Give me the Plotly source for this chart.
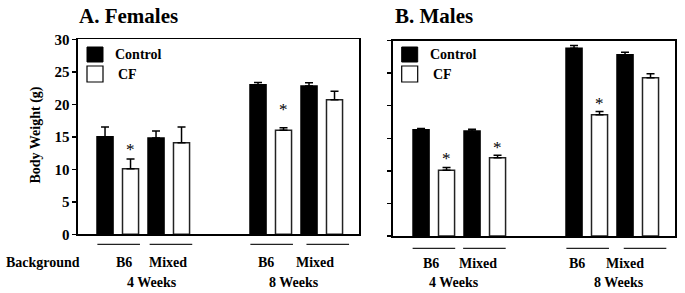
import plotly.graph_objects as go

# ---------------- data ----------------
ages = ["4 Weeks", "8 Weeks"]
backgrounds = ["B6", "Mixed"]
conditions = ["Control", "CF"]

# order: 4wk-B6, 4wk-Mixed, 8wk-B6, 8wk-Mixed
females_control = [15.0, 14.8, 23.0, 22.8]
females_control_err = [1.5, 1.1, 0.35, 0.5]
females_cf = [10.1, 14.1, 16.0, 20.7]
females_cf_err = [1.5, 2.4, 0.4, 1.3]

males_control = [16.3, 16.1, 28.8, 27.8]
males_control_err = [0.2, 0.3, 0.45, 0.4]
males_cf = [10.1, 12.0, 18.6, 24.3]
males_cf_err = [0.4, 0.4, 0.5, 0.6]

# significance marks (index into group list, for CF bars)
females_sig = [0, 2]
males_sig = [0, 1, 2]

y_ticks = [0, 5, 10, 15, 20, 25, 30]

FONT = "Liberation Serif"
W, H = 685, 293


def px_x(p):
    return p / W


def px_y(p):
    return 1 - p / H


# group base positions derived from category indices
group_base = []
for ai, _a in enumerate(ages):
    for bi, _b in enumerate(backgrounds):
        group_base.append(ai * 6 + bi * 2)

fig = go.Figure()

panels = [
    dict(name="A. Females", ctrl=females_control, ctrl_err=females_control_err,
         cf=females_cf, cf_err=females_cf_err, sig=females_sig,
         xa="x", ya="y", xdom=(78, 359), ydom=(234.3, 39.3),
         star_shift=[10, None, 19, None],
         line_y=244.3, lab_y=262.7, wk_y=282.7,
         line_shift=[0.0, 0.05, 0.0, 0.2],
         lab_x=[0.75, 0.47, 0.31, 0.22], wk_x=[1.86, 7.41],
         title_x=77, leg_x=87, showlabels=True),
    dict(name="B. Males", ctrl=males_control, ctrl_err=males_control_err,
         cf=males_cf, cf_err=males_cf_err, sig=males_sig,
         xa="x2", ya="y2", xdom=(393, 675), ydom=(236, 40.5),
         star_shift=[10, 8, 9, None],
         line_y=248.3, lab_y=263.3, wk_y=282.7,
         line_shift=[-0.03, -0.05, 0.0, 0.25],
         lab_x=[0.39, 0.24, 0.1, -0.02], wk_x=[1.29, 7.75],
         title_x=393, leg_x=401.7, showlabels=False),
]

shapes = []
annotations = []


def bold(t):
    return "<b>" + t + "</b>"


for k, P in enumerate(panels):
    xs_ctrl = [b + 0 for b in group_base]
    xs_cf = [b + 1 for b in group_base]
    fig.add_trace(go.Bar(
        x=xs_ctrl, y=P["ctrl"], width=0.63, name=conditions[0],
        marker=dict(color="black", line=dict(color="black", width=1.5)),
        error_y=dict(type="data", array=P["ctrl_err"], arrayminus=[0] * 4,
                     symmetric=False, color="black", thickness=1.5, width=4),
        xaxis=P["xa"], yaxis=P["ya"], showlegend=False, hoverinfo="skip"))
    fig.add_trace(go.Bar(
        x=xs_cf, y=P["cf"], width=0.63, name=conditions[1],
        marker=dict(color="white", line=dict(color="#222", width=1.5)),
        error_y=dict(type="data", array=P["cf_err"], arrayminus=[0] * 4,
                     symmetric=False, color="black", thickness=1.5, width=4),
        xaxis=P["xa"], yaxis=P["ya"], showlegend=False, hoverinfo="skip"))

    # asterisks
    for i in P["sig"]:
        annotations.append(dict(
            x=xs_cf[i], y=P["cf"][i] + P["cf_err"][i], xref=P["xa"], yref=P["ya"],
            text="*", showarrow=False, yanchor="bottom", yshift=P["star_shift"][i] - 12,
            font=dict(family=FONT, size=17, color="black")))

    # title
    annotations.append(dict(
        x=px_x(P["title_x"]), y=px_y(16), xref="paper", yref="paper",
        xanchor="left", yanchor="middle", text=bold(P["name"]), showarrow=False,
        font=dict(family=FONT, size=21, color="black")))

    # legend (drawn)
    lx = P["leg_x"]
    shapes.append(dict(type="rect", xref="paper", yref="paper",
                       x0=px_x(lx), x1=px_x(lx + 16), y0=px_y(62), y1=px_y(47),
                       fillcolor="black", line=dict(color="black", width=1)))
    shapes.append(dict(type="rect", xref="paper", yref="paper",
                       x0=px_x(lx), x1=px_x(lx + 16), y0=px_y(82), y1=px_y(66),
                       fillcolor="white", line=dict(color="black", width=1.2)))
    annotations.append(dict(x=px_x(lx + 26), y=px_y(54.5), xref="paper", yref="paper",
                            xanchor="left", yanchor="middle", text=bold(conditions[0]),
                            showarrow=False,
                            font=dict(family=FONT, size=14, color="black")))
    annotations.append(dict(x=px_x(lx + 29), y=px_y(74), xref="paper", yref="paper",
                            xanchor="left", yanchor="middle", text=bold(conditions[1]),
                            showarrow=False,
                            font=dict(family=FONT, size=14, color="black")))

    # underlines + background labels
    for gi, base in enumerate(group_base):
        x0 = base - 0.3 + P["line_shift"][gi]
        shapes.append(dict(type="line", xref=P["xa"], yref="paper",
                           x0=x0, x1=x0 + 1.67,
                           y0=px_y(P["line_y"]), y1=px_y(P["line_y"]),
                           line=dict(color="#222", width=1.3)))
        annotations.append(dict(x=base + P["lab_x"][gi], y=px_y(P["lab_y"]),
                                xref=P["xa"], yref="paper",
                                text=bold(backgrounds[gi % 2]),
                                showarrow=False, xanchor="center", yanchor="middle",
                                font=dict(family=FONT, size=14, color="black")))
    for ai, a in enumerate(ages):
        annotations.append(dict(x=P["wk_x"][ai], y=px_y(P["wk_y"]),
                                xref=P["xa"], yref="paper", text=bold(a),
                                showarrow=False, xanchor="center", yanchor="middle",
                                font=dict(family=FONT, size=14, color="black")))

# "Background" row label and y-axis title
annotations.append(dict(x=px_x(43), y=px_y(262.7), xref="paper", yref="paper",
                        text=bold("Background"), showarrow=False, xanchor="center",
                        yanchor="middle",
                        font=dict(family=FONT, size=14, color="black")))
annotations.append(dict(x=px_x(35), y=px_y(135.5), xref="paper", yref="paper",
                        text=bold("Body Weight (g)"), showarrow=False, textangle=-90,
                        xanchor="center", yanchor="middle",
                        font=dict(family=FONT, size=14, color="black")))

axis_common = dict(showgrid=False, zeroline=False, showline=True, linecolor="black",
                   linewidth=1.6, mirror=True, automargin=False, fixedrange=True)

P0, P1 = panels
fig.update_layout(
    width=W, height=H, margin=dict(l=0, r=0, t=0, b=0, pad=0, autoexpand=False),
    paper_bgcolor="white", plot_bgcolor="white",
    font=dict(family=FONT),
    barmode="overlay", showlegend=False, hovermode=False,
    xaxis=dict(domain=[px_x(P0["xdom"][0]), px_x(P0["xdom"][1])],
               range=[-1.06, 9.96], showticklabels=False, ticks="", **axis_common),
    yaxis=dict(domain=[px_y(P0["ydom"][0]), px_y(P0["ydom"][1])],
               range=[0, 30], tickvals=y_ticks, ticktext=[bold(str(v)) for v in y_ticks],
               ticks="outside", ticklen=4,
               tickwidth=1.5, tickcolor="black",
               tickfont=dict(family=FONT, size=15, color="black"),
               anchor="x", **axis_common),
    xaxis2=dict(domain=[px_x(P1["xdom"][0]), px_x(P1["xdom"][1])],
                range=[-1.1, 9.96], showticklabels=False, ticks="", anchor="y2",
                **axis_common),
    yaxis2=dict(domain=[px_y(P1["ydom"][0]), px_y(P1["ydom"][1])],
                range=[0, 30], tickvals=y_ticks, ticks="outside", ticklen=4,
                tickwidth=1.5, tickcolor="black", showticklabels=False,
                anchor="x2", **axis_common),
    shapes=shapes, annotations=annotations,
)

fig.write_html("out.html",
               config={"displayModeBar": False, "staticPlot": True},
               post_script="document.body.style.margin='0';document.body.style.padding='0';")
